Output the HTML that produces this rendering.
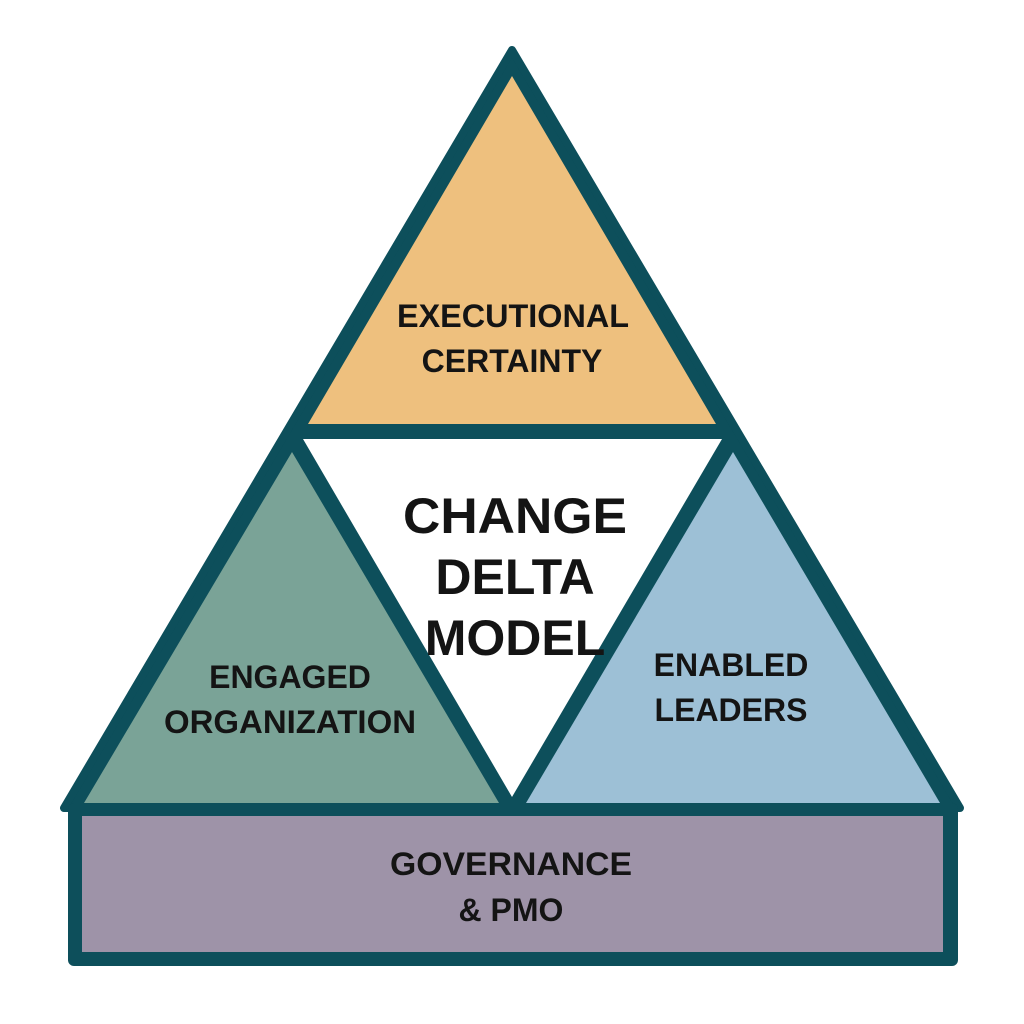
<!DOCTYPE html>
<html><head><style>
html,body{margin:0;padding:0;background:#fff;}
svg{display:block;}
text{font-family:"Liberation Sans",sans-serif;font-weight:bold;fill:#141414;text-anchor:middle;}
</style></head><body>
<svg width="1024" height="1024" viewBox="0 0 1024 1024">
<polygon points="512,50 64,808 960,808" fill="#0d4f5b" stroke="#0d4f5b" stroke-width="8" stroke-linejoin="round"/>
<polygon points="512,76 308,424 716,424" fill="#eec07e"/>
<polygon points="303,439 722,439 512,797" fill="#ffffff"/>
<polygon points="292,452 84,803 499,803" fill="#7aa397"/>
<polygon points="733,452 526,803 940,803" fill="#9dc0d6"/>
<rect x="68" y="803" width="890" height="163" rx="6" fill="#0d4f5b"/>
<rect x="82" y="816" width="861" height="136" fill="#9e93a8"/>
<text x="513" y="327" font-size="32" textLength="232" lengthAdjust="spacingAndGlyphs">EXECUTIONAL</text>
<text x="512" y="372" font-size="32">CERTAINTY</text>
<text x="515" y="533" font-size="50" textLength="224" lengthAdjust="spacingAndGlyphs">CHANGE</text>
<text x="515" y="594" font-size="50">DELTA</text>
<text x="515" y="655" font-size="50">MODEL</text>
<text x="290" y="688" font-size="32">ENGAGED</text>
<text x="290" y="733" font-size="32" textLength="252" lengthAdjust="spacingAndGlyphs">ORGANIZATION</text>
<text x="731" y="676" font-size="32">ENABLED</text>
<text x="731" y="721" font-size="32">LEADERS</text>
<text x="511" y="875" font-size="32" textLength="242" lengthAdjust="spacingAndGlyphs">GOVERNANCE</text>
<text x="511" y="921" font-size="32">&amp; PMO</text>
</svg>
</body></html>
